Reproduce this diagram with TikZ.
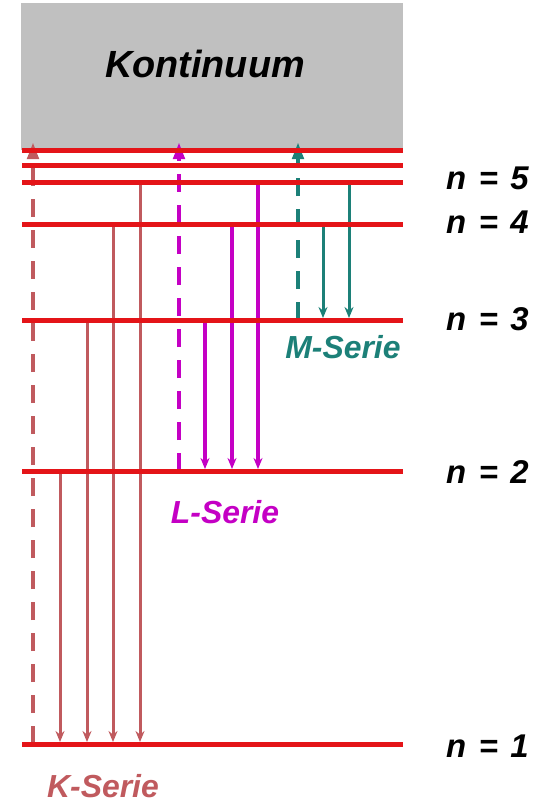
\documentclass[tikz,border=0pt]{standalone}
\usepackage{fontspec}
\setmainfont{Liberation Sans}
\usetikzlibrary{arrows.meta, positioning}

\definecolor{levelred}{RGB}{228,20,24}
\definecolor{kcol}{RGB}{192,90,94}
\definecolor{lcol}{RGB}{196,0,196}
\definecolor{mcol}{RGB}{28,128,120}
\definecolor{contgray}{RGB}{192,192,192}

\begin{document}
\begin{tikzpicture}[x=1bp, y=-1bp, >={Stealth[length=11bp,width=9bp]}]
		% Define styles
		\tikzstyle{level} = [draw=levelred, line width=5bp]
		\tikzstyle{trans} = [->, line width=3bp, shorten >=2bp]
		\tikzstyle{ionize} = [-{Triangle[length=17bp,width=11bp]}, line width=4.5bp, dash pattern=on 18bp off 13bp]
		\tikzstyle{lbl} = [font=\fontsize{32}{38}\selectfont\bfseries\itshape, inner sep=0pt]

		\useasboundingbox (0,0) rectangle (542,803);

		% Continuum
		\node [fill=contgray, minimum width=382bp, minimum height=147bp, inner sep=0pt, anchor=north west] (cont) at (21,3) {};
		\node [lbl, font=\fontsize{38}{44}\selectfont\bfseries\itshape, anchor=base] (konti) at (205,78) {Kontinuum};

		% Energy levels
		\foreach \name/\y in {top/150, sub/165, lev5/182, lev4/224, lev3/320, lev2/471, lev1/744}
			\coordinate (\name) at (22,\y);
		\coordinate (ion) at (22,142);

		% K series
		\draw [ionize, kcol] (33,0 |- lev1) -- (33,0 |- ion);
		\foreach \x/\from in {60/lev2, 87/lev3, 113/lev4, 140/lev5}
			\draw [trans, kcol] (\x,0 |- \from) -- (\x,0 |- lev1);

		% L series
		\draw [ionize, lcol] (179,0 |- lev2) -- (179,0 |- ion);
		\foreach \x/\from in {205/lev3, 232/lev4, 258/lev5}
			\draw [trans, lcol, line width=3.5bp] (\x,0 |- \from) -- (\x,0 |- lev2);

		% M series
		\draw [ionize, mcol] (298,0 |- lev3) -- (298,0 |- ion);
		\foreach \x/\from in {323/lev4, 349/lev5}
			\draw [trans, mcol] (\x,0 |- \from) -- (\x,0 |- lev3);

		% Level lines on top
		\foreach \name in {top, sub, lev5, lev4, lev3, lev2, lev1}
			\draw [level] (\name) -- ++(381,0);

		% Quantum numbers
		\foreach \n/\b in {5/189, 4/233, 3/330, 2/483, 1/757}
			\node [lbl, font=\fontsize{33}{40}\selectfont\bfseries\itshape, anchor=base west] (n\n) at (446,\b) {n\hspace{.38em}=\hspace{.38em}\n};

		% Series names
		\node [lbl, kcol, anchor=base] (kser) at (103,797) {K-Serie};
		\node [lbl, lcol, anchor=base] (lser) at (225,523) {L-Serie};
		\node [lbl, mcol, anchor=base] (mser) at (343,358) {M-Serie};

	\end{tikzpicture}
\end{document}
